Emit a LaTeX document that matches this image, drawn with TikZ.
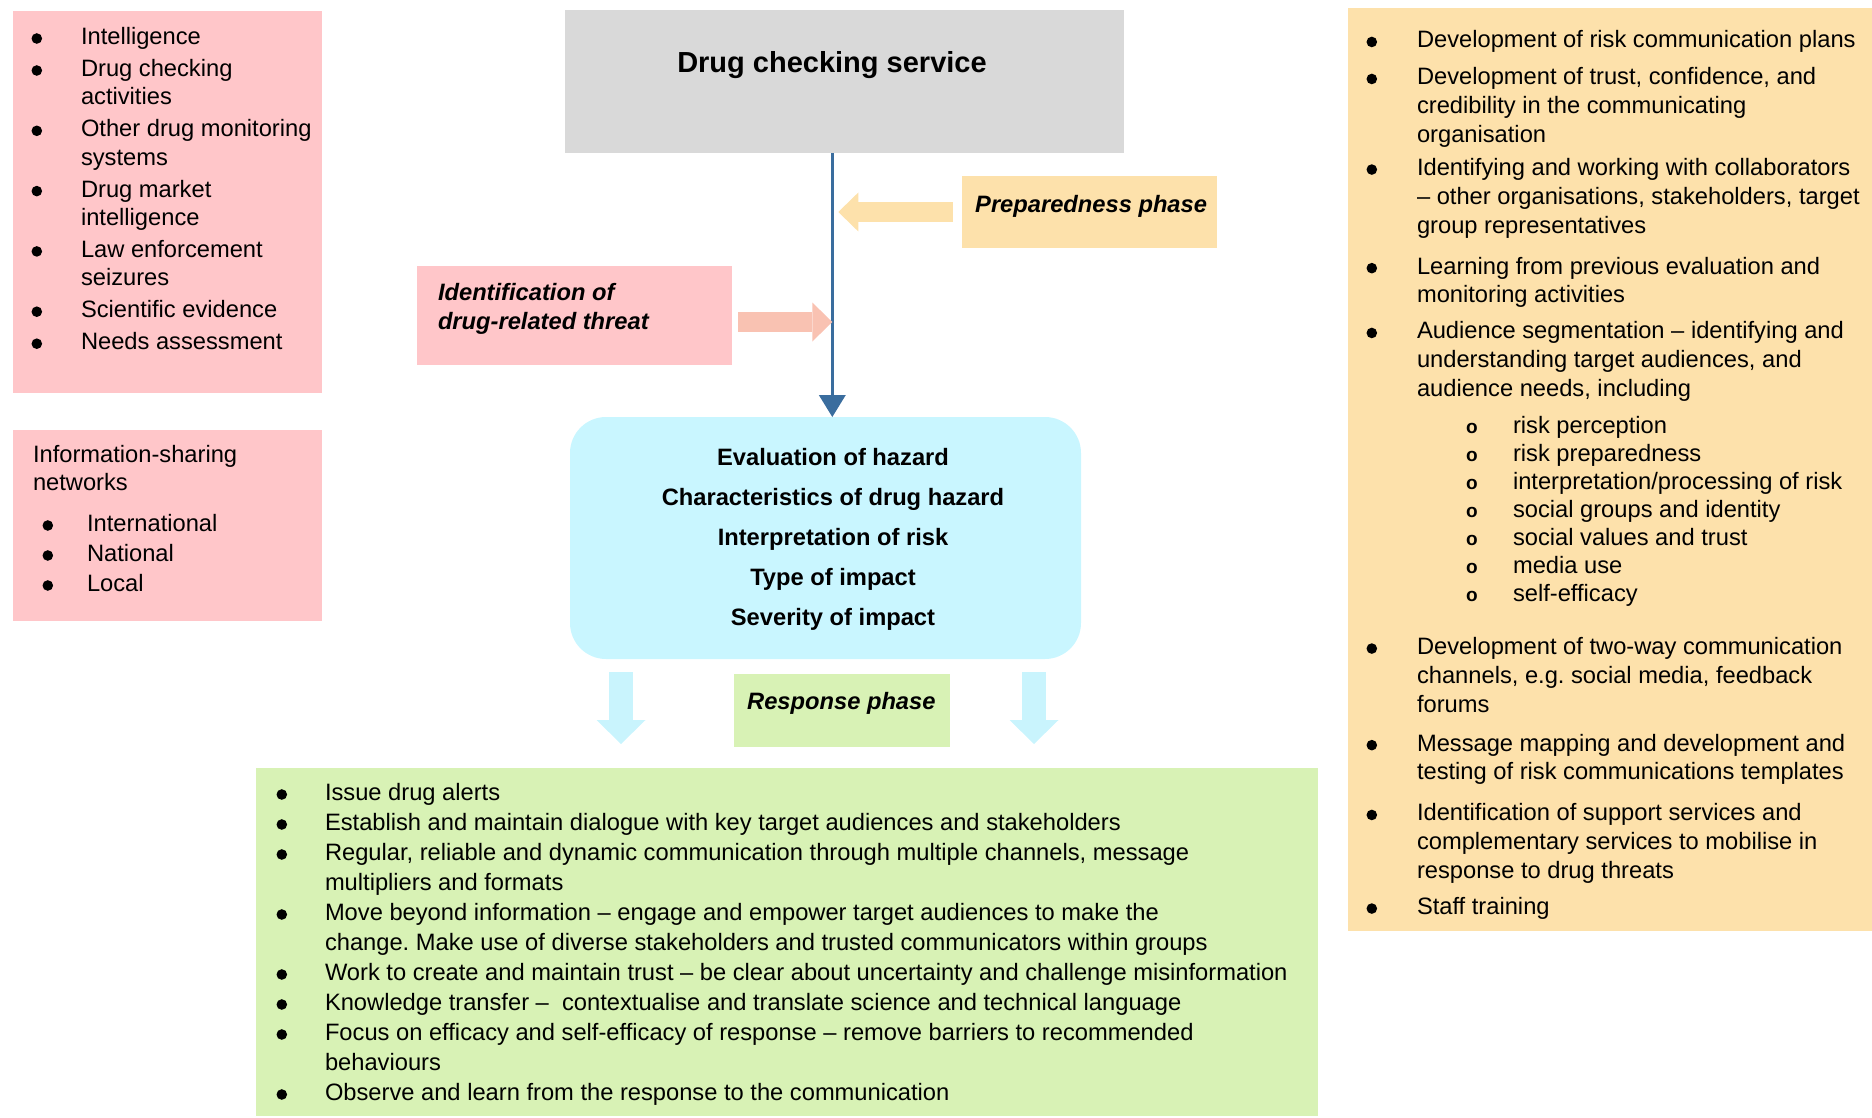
\documentclass[tikz,border=0pt]{standalone}
\usepackage{fontspec}
\setmainfont{Liberation Sans}
\usetikzlibrary{arrows.meta, calc}
\frenchspacing

\definecolor{pinkbg}{HTML}{FFC6C9}
\definecolor{greybg}{HTML}{D9D9D9}
\definecolor{peachbg}{HTML}{FDE1AB}
\definecolor{cyanbg}{HTML}{C9F6FF}
\definecolor{greenbg}{HTML}{D8F2B5}
\definecolor{salmon}{HTML}{F9C2B2}
\definecolor{steel}{HTML}{3A6D9E}
\definecolor{paleblue}{HTML}{C9F4FD}

\newcommand{\dotb}{\tikz[baseline=-6pt]\fill (0,0) circle (5.3pt);}
\newcommand{\subi}{\hspace*{49pt}\makebox[47pt][l]{\fontsize{19}{19}\selectfont\bfseries o}}

\begin{document}
\begin{tikzpicture}[x=1pt, y=-1pt,
  box/.style={inner sep=0, outer sep=0, anchor=north west},
  txt/.style={inner sep=0, outer sep=0, anchor=north west},
  fat/.style={line width=#1},
  tip/.style 2 args={-{Triangle[width=#1 0, length=#2 0, line width=0pt]}}]
\useasboundingbox (0,0) rectangle (1872,1118);

% boxes
\node[box, fill=pinkbg, minimum width=309pt, minimum height=382pt] (sources) at (13,11) {};
\node[box, fill=pinkbg, minimum width=309pt, minimum height=191pt] (networks) at (13,430) {};
\node[box, fill=greybg, minimum width=559pt, minimum height=143pt] (service) at (565,10) {};
\node[box, fill=peachbg, minimum width=255pt, minimum height=72pt] (prepl) at (962,176) {};
\node[box, fill=pinkbg, minimum width=315pt, minimum height=99pt] (ident) at (417,266) {};
\node[box, fill=cyanbg, rounded corners=36pt, minimum width=511pt, minimum height=242pt] (hazard) at (570,417) {};
\node[box, fill=greenbg, minimum width=216pt, minimum height=73pt] (resp) at (734,674) {};
\node[box, fill=greenbg, minimum width=1062pt, minimum height=348pt] (actions) at (256,768) {};
\node[box, fill=peachbg, minimum width=524pt, minimum height=923pt] (prepbox) at (1348,8) {};

% arrows
\coordinate (axis) at (832.3,0);
\draw[steel, fat=3.3pt, tip={27pt}{22pt}] (service.south -| axis) -- (hazard.north -| axis);
\draw[peachbg, fat=20pt, tip={39pt}{20pt}, shorten >=6pt] ([xshift=-9pt]prepl.west) -- (prepl.west -| axis);
\draw[salmon, fat=20pt, tip={39pt}{20pt}] ([xshift=6pt,yshift=-6.5pt]ident.east) -- ([yshift=-6.5pt]ident.east -| axis);
\draw[paleblue, fat=24pt, tip={49pt}{24pt}, shorten <=13pt, shorten >=24pt] ([xshift=-204.5pt]hazard.south) -- ([xshift=-204.5pt]hazard.south |- actions.north);
\draw[paleblue, fat=24pt, tip={49pt}{24pt}, shorten <=13pt, shorten >=24pt] ([xshift=208.5pt]hazard.south) -- ([xshift=208.5pt]hazard.south |- actions.north);

% texts
\node[inner sep=0, anchor=base, font=\fontsize{29}{35}\selectfont\bfseries] (title) at (832,73) {Drug checking service};
\node[inner sep=0, anchor=base west, font=\fontsize{23.7}{29}\selectfont\bfseries\itshape] (preptxt) at (975,213) {Preparedness phase};
\node[inner sep=0, anchor=base west, font=\fontsize{23.7}{29}\selectfont\bfseries\itshape] (resptxt) at (747,709) {Response phase};
\node[txt, font=\fontsize{23.7}{29}\selectfont\bfseries\itshape] (identtxt) at (438,279.7)
  {\begin{tabular}{@{}l@{}}Identification of\\ drug-related threat\end{tabular}};
\node[txt, anchor=north, font=\fontsize{23.7}{40}\selectfont\bfseries] (hazardtxt) at (833,437)
  {\begin{tabular}{@{}c@{}}Evaluation of hazard\\ Characteristics of drug hazard\\ Interpretation of risk\\ Type of impact\\ Severity of impact\end{tabular}};

\node[txt, font=\fontsize{23.7}{28.3}\selectfont] (srclist) at (31.5,24.7)
  {\begin{tabular}{@{}p{49.5pt}@{}l@{}}
  \dotb & Intelligence\\[3.7pt]
  \dotb & Drug checking\\
        & activities\\[3.7pt]
  \dotb & Other drug monitoring\\
        & systems\\[3.7pt]
  \dotb & Drug market\\
        & intelligence\\[3.7pt]
  \dotb & Law enforcement\\
        & seizures\\[3.7pt]
  \dotb & Scientific evidence\\[3.7pt]
  \dotb & Needs assessment
  \end{tabular}};

\node[txt, font=\fontsize{23.7}{28}\selectfont] (nethead) at (33,443)
  {\begin{tabular}{@{}l@{}}Information-sharing\\ networks\end{tabular}};
\node[txt, font=\fontsize{23.7}{30}\selectfont] (netlist) at (42.5,510.5)
  {\begin{tabular}{@{}p{44.5pt}@{}l@{}}
  \dotb & International\\
  \dotb & National\\
  \dotb & Local
  \end{tabular}};

\node[txt, font=\fontsize{23.7}{28.8}\selectfont] (preplist) at (1366.5,27.8)
  {\begin{tabular}{@{}p{50.5pt}@{}l@{}}
  \dotb & Development of risk communication plans\\[8.2pt]
  \dotb & Development of trust, confidence, and\\
        & credibility in the communicating\\
        & organisation\\[4.2pt]
  \dotb & Identifying and working with collaborators\\
        & – other organisations, stakeholders, target\\
        & group representatives\\[12.2pt]
  \dotb & Learning from previous evaluation and\\
        & monitoring activities\\[7.2pt]
  \dotb & Audience segmentation – identifying and\\
        & understanding target audiences, and\\
        & audience needs, including\\[8.2pt]
        & \subi risk perception\\[-0.8pt]
        & \subi risk preparedness\\[-0.8pt]
        & \subi interpretation/processing of risk\\[-0.8pt]
        & \subi social groups and identity\\[-0.8pt]
        & \subi social values and trust\\[-0.8pt]
        & \subi media use\\[-0.8pt]
        & \subi self-efficacy\\[24.2pt]
  \dotb & Development of two-way communication\\
        & channels, e.g. social media, feedback\\
        & forums\\[10.2pt]
  \dotb & Message mapping and development and\\
        & testing of risk communications templates\\[12.2pt]
  \dotb & Identification of support services and\\
        & complementary services to mobilise in\\
        & response to drug threats\\[7.2pt]
  \dotb & Staff training
  \end{tabular}};

\node[txt, font=\fontsize{23.7}{30}\selectfont] (actlist) at (276.5,779.5)
  {\begin{tabular}{@{}p{48.5pt}@{}l@{}}
  \dotb & Issue drug alerts\\
  \dotb & Establish and maintain dialogue with key target audiences and stakeholders\\
  \dotb & Regular, reliable and dynamic communication through multiple channels, message\\
        & multipliers and formats\\
  \dotb & Move beyond information – engage and empower target audiences to make the\\
        & change. Make use of diverse stakeholders and trusted communicators within groups\\
  \dotb & Work to create and maintain trust – be clear about uncertainty and challenge misinformation\\
  \dotb & Knowledge transfer –\ \ contextualise and translate science and technical language\\
  \dotb & Focus on efficacy and self-efficacy of response – remove barriers to recommended\\
        & behaviours\\
  \dotb & Observe and learn from the response to the communication
  \end{tabular}};
\end{tikzpicture}
\end{document}
